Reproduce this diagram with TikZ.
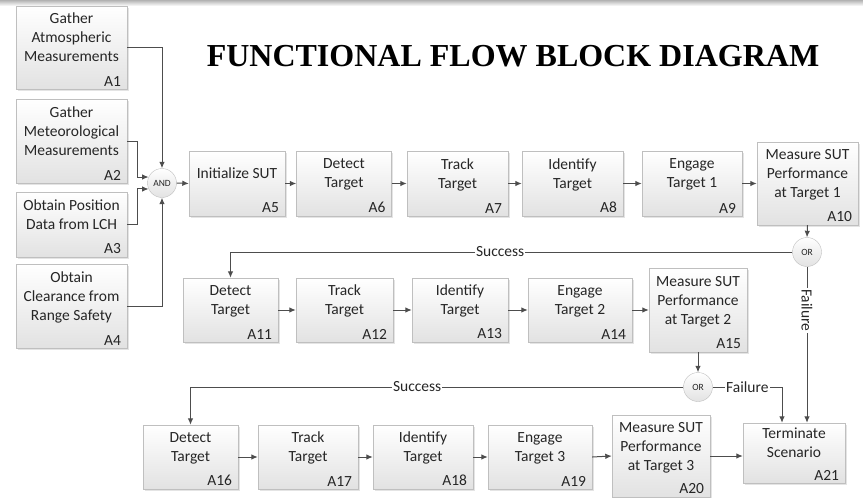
\documentclass[tikz,border=0pt]{standalone}
\usepackage{fontspec}
\setmainfont{Carlito}
\newfontfamily\titlefont{Liberation Serif}
\usetikzlibrary{arrows.meta}
\usetikzlibrary{shadows}

\definecolor{boxline}{HTML}{BFBFBF}
\definecolor{boxshade}{HTML}{E2E2E2}
\definecolor{flowline}{HTML}{4D4D4D}
\definecolor{inktext}{HTML}{262626}

\tikzset{
	fblock/.style={draw=boxline, top color=white, bottom color=boxshade,
		drop shadow={shadow xshift=1.5pt, shadow yshift=-1.5pt, fill=black!30, opacity=0.35},
		align=center, text depth=20pt, inner sep=2pt, text=inktext,
		font=\fontsize{15.5}{19}\selectfont},
	blockid/.style={label={[anchor=south east, inner sep=3pt, xshift=-3pt, text=inktext,
		font=\fontsize{15.5}{19}\selectfont]south east:#1}},
	gate/.style={circle, draw=boxline, top color=white, bottom color=boxshade,
		minimum size=29pt, inner sep=0pt, text=inktext, font=\fontsize{9.5}{10}\selectfont},
	flow/.style={draw=flowline, line width=1pt, -{Latex[length=6.5pt,width=5.5pt]}},
	cond/.style={fill=white, inner sep=1pt, text=inktext, font=\fontsize{15.5}{19}\selectfont},
}

\begin{document}
\begin{tikzpicture}[x=1pt, y=-1pt]
\useasboundingbox (0,0) rectangle (863,498);
\fill[top color=black!30, bottom color=white] (0,0) rectangle (863,6);

\path (513,56) node (title) {\titlefont\bfseries\fontsize{32}{36}\selectfont FUNCTIONAL FLOW BLOCK DIAGRAM};

	% inputs
\path
	(71.5,47.5) node[fblock, blockid=A1, minimum width=111, minimum height=83] (a1) {Gather\\Atmospheric\\Measurements}
	(71.5,141) node[fblock, blockid=A2, minimum width=111, minimum height=84] (a2) {Gather\\Meteorological\\Measurements}
	(71.5,224.5) node[fblock, blockid=A3, minimum width=111, minimum height=65] (a3) {Obtain Position\\Data from LCH}
	(71.5,306) node[fblock, blockid=A4, minimum width=111, minimum height=84] (a4) {Obtain\\Clearance from\\Range Safety}
	(162,183) node[gate] (andgate) {AND}
	;

	% first target
\path
	(237,183.5) node[fblock, blockid=A5, minimum width=96, minimum height=65] (a5) {Initialize SUT}
	(344,183.5) node[fblock, blockid=A6, minimum width=95, minimum height=65] (a6) {Detect\\Target}
	(457.5,183.5) node[fblock, blockid=A7, minimum width=101, minimum height=65] (a7) {Track\\Target}
	(572.5,183.5) node[fblock, blockid=A8, minimum width=101, minimum height=65] (a8) {Identify\\Target}
	(692,183.5) node[fblock, blockid=A9, minimum width=100, minimum height=65] (a9) {Engage\\Target 1}
	(807.5,183.5) node[fblock, blockid=A10, minimum width=101, minimum height=83] (a10) {Measure SUT\\Performance\\at Target 1}
	(807,252) node[gate] (orA) {OR}
	;

	% second target
\path
	(230.5,310) node[fblock, blockid=A11, minimum width=95, minimum height=64] (a11) {Detect\\Target}
	(344.5,310) node[fblock, blockid=A12, minimum width=97, minimum height=64] (a12) {Track\\Target}
	(460,310) node[fblock, blockid=A13, minimum width=96, minimum height=64] (a13) {Identify\\Target}
	(580,310) node[fblock, blockid=A14, minimum width=104, minimum height=64] (a14) {Engage\\Target 2}
	(698,310) node[fblock, blockid=A15, minimum width=98, minimum height=84] (a15) {Measure SUT\\Performance\\at Target 2}
	(698,387) node[gate] (orB) {OR}
	;

	% third target
\path
	(190.5,457) node[fblock, blockid=A16, minimum width=95, minimum height=64] (a16) {Detect\\Target}
	(308,457) node[fblock, blockid=A17, minimum width=100, minimum height=64] (a17) {Track\\Target}
	(423,457) node[fblock, blockid=A18, minimum width=100, minimum height=64] (a18) {Identify\\Target}
	(540,457) node[fblock, blockid=A19, minimum width=104, minimum height=64] (a19) {Engage\\Target 3}
	(661,456) node[fblock, blockid=A20, minimum width=98, minimum height=82] (a20) {Measure SUT\\Performance\\at Target 3}
	(794,453) node[fblock, blockid=A21, minimum width=102, minimum height=60] (a21) {Terminate\\Scenario}
	;

	% flows
\draw[flow] (a1.east) -| (andgate.north);
\draw[flow] (a2.east) -- ++(10,0) |- (andgate.156);
\draw[flow] (a3.east) -- ++(10,0) |- (andgate.204);
\draw[flow] (a4.east) -| (andgate.south);
\draw[flow] (andgate.east) -- (a5.west);
\draw[flow] (a5.east) -- (a6.west);
\draw[flow] (a6.east) -- (a7.west);
\draw[flow] (a7.east) -- (a8.west);
\draw[flow] (a8.east) -- (a9.west);
\draw[flow] (a9.east) -- (a10.west);
\draw[flow] (a10.south) -- (orA.north);
\draw[flow] (orA.west) -| node[cond, pos=0.26] {Success} (a11.north);
\draw[flow] (orA.south) -- node[cond, pos=0.28, rotate=-90] {Failure} (orA.south |- a21.north);
\draw[flow] (a11.east) -- (a12.west);
\draw[flow] (a12.east) -- (a13.west);
\draw[flow] (a13.east) -- (a14.west);
\draw[flow] (a14.east) -- (a15.west);
\draw[flow] (a15.south) -- (orB.north);
\draw[flow] (orB.west) -| node[cond, pos=0.27] {Success} (a16.north);
\draw[flow] (orB.east) -| node[cond, pos=0.25] {Failure} ([xshift=-12pt]a21.north);
\draw[flow] (a16.east) -- (a17.west);
\draw[flow] (a17.east) -- (a18.west);
\draw[flow] (a18.east) -- (a19.west);
\draw[flow] (a19.east) -- (a20.west);
\draw[flow] (a20.east) -- (a20.east -| a21.west);
\end{tikzpicture}
\end{document}
